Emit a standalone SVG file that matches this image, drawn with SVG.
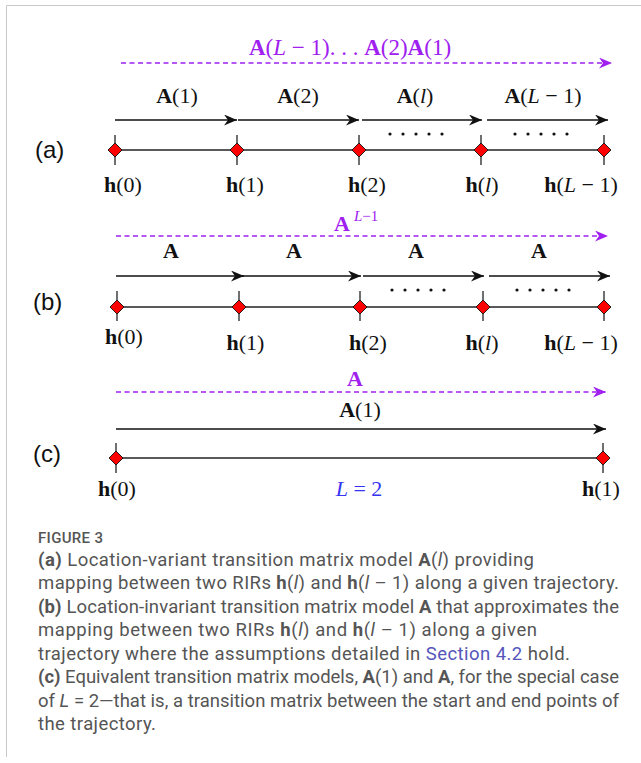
<svg xmlns="http://www.w3.org/2000/svg" width="641" height="763" viewBox="0 0 641 763">
<style>
.m{font-family:"Liberation Serif","Times New Roman",serif;font-size:22px;fill:#111;text-anchor:middle}
.b{font-weight:bold}
.i{font-style:italic}
.pu{fill:#a020f0}
.side{font-family:"Liberation Sans",Arial,sans-serif;font-size:24px;fill:#111}
.axis{stroke:#222;stroke-width:1.6;fill:none}
.tick{stroke:#222;stroke-width:1.3}
.arr{stroke:#111;stroke-width:1.4;fill:none;marker-end:url(#ah)}
.parr{stroke:#a020f0;stroke-width:1.6;fill:none;stroke-dasharray:5 3.5;marker-end:url(#ahp)}
.dots{stroke:#111;stroke-width:3.2;stroke-linecap:round;stroke-dasharray:0 13;fill:none}
.dia{fill:#ff0000;stroke:#111;stroke-width:0.9}
.cap{font-family:Roboto,"Open Sans",sans-serif;font-size:18.5px;fill:#555555}
.lnk{fill:#5555bb}
</style>
<defs>
<marker id="ah" viewBox="0 0 13 11" refX="13" refY="5.5" markerWidth="13" markerHeight="11" markerUnits="userSpaceOnUse" orient="auto">
<path d="M0,0 L13,5.5 L0,11 L4,5.5 Z" fill="#111"/>
</marker>
<marker id="ahp" viewBox="0 0 13 11" refX="13" refY="5.5" markerWidth="13" markerHeight="11" markerUnits="userSpaceOnUse" orient="auto">
<path d="M0,0 L13,5.5 L0,11 L4,5.5 Z" fill="#a020f0"/>
</marker>
</defs>
<rect x="0" y="0" width="641" height="763" fill="#ffffff"/>
<path d="M641,5.5 H6.5 V757" fill="none" stroke="#c8c8c8" stroke-width="1"/>

<!-- side labels -->
<text class="side" x="35" y="158">(a)</text>
<text class="side" x="33" y="310">(b)</text>
<text class="side" x="33" y="462">(c)</text>

<g id="connectors">
<!-- (a) -->
<line class="parr" x1="121" y1="63" x2="612" y2="63"/>
<line class="arr" x1="115" y1="120" x2="237" y2="120"/>
<line class="arr" x1="238" y1="120" x2="359" y2="120"/>
<line class="arr" x1="362" y1="120" x2="482" y2="120"/>
<line class="arr" x1="487" y1="120" x2="608" y2="120"/>
<line class="dots" x1="390" y1="134" x2="443" y2="134"/>
<line class="dots" x1="515" y1="134" x2="568" y2="134"/>
<line class="axis" x1="115" y1="150" x2="604" y2="150"/>
<!-- (b) -->
<line class="parr" x1="116" y1="236" x2="608" y2="236"/>
<line class="arr" x1="116" y1="276" x2="244" y2="276"/>
<line class="arr" x1="242" y1="276" x2="361" y2="276"/>
<line class="arr" x1="363" y1="276" x2="484" y2="276"/>
<line class="arr" x1="489" y1="276" x2="610" y2="276"/>
<line class="dots" x1="392" y1="290" x2="445" y2="290"/>
<line class="dots" x1="517" y1="290" x2="570" y2="290"/>
<line class="axis" x1="117" y1="307" x2="604" y2="307"/>
<!-- (c) -->
<line class="parr" x1="116" y1="392" x2="606" y2="392"/>
<line class="arr" x1="116" y1="429" x2="606" y2="429"/>
<line class="axis" x1="116" y1="458" x2="603" y2="458"/>
</g>

<!-- connector labels -->
<g id="labels-a">
<text class="m pu" x="350" y="55" style="font-size:23px"><tspan class="b">A</tspan>(<tspan class="i">L</tspan> − 1). . . <tspan class="b">A</tspan>(2)<tspan class="b">A</tspan>(1)</text>
<text class="m" x="177" y="103"><tspan class="b">A</tspan>(1)</text>
<text class="m" x="298" y="103"><tspan class="b">A</tspan>(2)</text>
<text class="m" x="415" y="103"><tspan class="b">A</tspan>(<tspan class="i">l</tspan>)</text>
<text class="m" x="543" y="103"><tspan class="b">A</tspan>(<tspan class="i">L</tspan> − 1)</text>
</g>
<g id="labels-b">
<text class="m pu b" x="342" y="231">A</text>
<text class="m pu" x="354" y="221" style="font-size:15px;text-anchor:start"><tspan class="i">L</tspan>−1</text>
<text class="m b" x="171" y="258">A</text>
<text class="m b" x="294" y="258">A</text>
<text class="m b" x="416" y="258">A</text>
<text class="m b" x="539" y="258">A</text>
</g>
<g id="labels-c">
<text class="m pu b" x="355" y="386">A</text>
<text class="m" x="360" y="417"><tspan class="b">A</tspan>(1)</text>
<text class="m" x="359" y="496" style="fill:#3434f0"><tspan class="i">L</tspan> = 2</text>
</g>

<!-- (a) nodes -->
<g id="a-h0"><line class="tick" x1="115" y1="135" x2="115" y2="165"/><polygon class="dia" points="115,143 122,150 115,157 108,150"/><text class="m" x="123" y="192"><tspan class="b">h</tspan>(0)</text></g>
<g id="a-h1"><line class="tick" x1="237" y1="135" x2="237" y2="165"/><polygon class="dia" points="237,143 244,150 237,157 230,150"/><text class="m" x="245" y="192"><tspan class="b">h</tspan>(1)</text></g>
<g id="a-h2"><line class="tick" x1="359" y1="135" x2="359" y2="165"/><polygon class="dia" points="359,143 366,150 359,157 352,150"/><text class="m" x="367" y="192"><tspan class="b">h</tspan>(2)</text></g>
<g id="a-hl"><line class="tick" x1="481" y1="135" x2="481" y2="165"/><polygon class="dia" points="481,143 488,150 481,157 474,150"/><text class="m" x="482" y="192"><tspan class="b">h</tspan>(<tspan class="i">l</tspan>)</text></g>
<g id="a-hL"><line class="tick" x1="604" y1="135" x2="604" y2="165"/><polygon class="dia" points="604,143 611,150 604,157 597,150"/><text class="m" x="581" y="192"><tspan class="b">h</tspan>(<tspan class="i">L</tspan> − 1)</text></g>

<!-- (b) nodes -->
<g id="b-h0"><line class="tick" x1="117" y1="291" x2="117" y2="321"/><polygon class="dia" points="117,300 124,307 117,314 110,307"/><text class="m" x="124" y="344"><tspan class="b">h</tspan>(0)</text></g>
<g id="b-h1"><line class="tick" x1="239" y1="291" x2="239" y2="321"/><polygon class="dia" points="239,300 246,307 239,314 232,307"/><text class="m" x="245.5" y="350"><tspan class="b">h</tspan>(1)</text></g>
<g id="b-h2"><line class="tick" x1="360" y1="291" x2="360" y2="321"/><polygon class="dia" points="360,300 367,307 360,314 353,307"/><text class="m" x="368" y="350"><tspan class="b">h</tspan>(2)</text></g>
<g id="b-hl"><line class="tick" x1="483" y1="291" x2="483" y2="321"/><polygon class="dia" points="483,300 490,307 483,314 476,307"/><text class="m" x="482" y="350"><tspan class="b">h</tspan>(<tspan class="i">l</tspan>)</text></g>
<g id="b-hL"><line class="tick" x1="604" y1="291" x2="604" y2="321"/><polygon class="dia" points="604,300 611,307 604,314 597,307"/><text class="m" x="581" y="350"><tspan class="b">h</tspan>(<tspan class="i">L</tspan> − 1)</text></g>

<!-- (c) nodes -->
<g id="c-h0"><line class="tick" x1="116" y1="443" x2="116" y2="473"/><polygon class="dia" points="116,451 123,458 116,465 109,458"/><text class="m" x="117" y="496"><tspan class="b">h</tspan>(0)</text></g>
<g id="c-h1"><line class="tick" x1="603" y1="443" x2="603" y2="473"/><polygon class="dia" points="603,451 610,458 603,465 596,458"/><text class="m" x="601" y="496"><tspan class="b">h</tspan>(1)</text></g>

<!-- caption -->
<g id="caption">
<text class="cap" x="38" y="543" textLength="65" style="font-size:15px;font-weight:500">FIGURE 3</text>
<text class="cap" x="38" y="566" textLength="496"><tspan class="b">(a)</tspan> Location-variant transition matrix model <tspan class="b">A</tspan>(<tspan class="i">l</tspan>) providing</text>
<text class="cap" x="38" y="589" textLength="581">mapping between two RIRs <tspan class="b">h</tspan>(<tspan class="i">l</tspan>) and <tspan class="b">h</tspan>(<tspan class="i">l</tspan> – 1) along a given trajectory.</text>
<text class="cap" x="38" y="613" textLength="581"><tspan class="b">(b)</tspan> Location-invariant transition matrix model <tspan class="b">A</tspan> that approximates the</text>
<text class="cap" x="38" y="636" textLength="499">mapping between two RIRs <tspan class="b">h</tspan>(<tspan class="i">l</tspan>) and <tspan class="b">h</tspan>(<tspan class="i">l</tspan> – 1) along a given</text>
<text class="cap" x="38" y="660" textLength="532">trajectory where the assumptions detailed in <tspan class="lnk">Section 4.2</tspan> hold.</text>
<text class="cap" x="38" y="683" textLength="581"><tspan class="b">(c)</tspan> Equivalent transition matrix models, <tspan class="b">A</tspan>(1) and <tspan class="b">A</tspan>, for the special case</text>
<text class="cap" x="38" y="707" textLength="581">of <tspan class="i">L</tspan> = 2—that is, a transition matrix between the start and end points of</text>
<text class="cap" x="38" y="730" textLength="118">the trajectory.</text>
</g>
</svg>
